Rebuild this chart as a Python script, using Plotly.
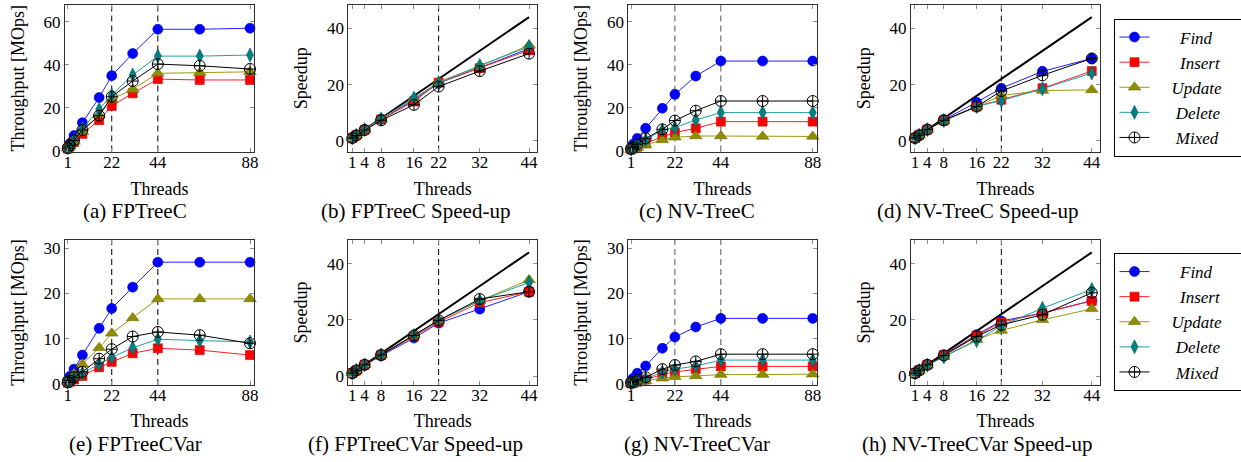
import plotly.graph_objects as go

# ---------------- data ----------------
threads = [1, 2, 4, 8, 16, 22, 32, 44, 64, 88]
speedup_threads = [1, 2, 4, 8, 16, 22, 32, 44]
ideal_x = [1, 44]
ideal_y = [1, 44]
tp_ticks = [1, 22, 44, 88]
sp_ticks = [1, 4, 8, 16, 22, 32, 44]
ops = ["Find", "Insert", "Update", "Delete", "Mixed"]

# (a) FPTreeC throughput [MOps]
fptreec_find = [1.6, 3.3, 7.0, 13.0, 24.7, 34.9, 45.2, 56.5, 56.5, 57.0]
fptreec_insert = [0.9, 2.0, 4.0, 7.8, 14.2, 20.8, 26.7, 33.3, 32.9, 32.9]
fptreec_update = [1.1, 2.2, 4.3, 8.8, 16.6, 23.9, 28.5, 36.0, 36.3, 36.7]
fptreec_delete = [1.2, 2.5, 5.0, 10.4, 19.2, 25.9, 35.2, 44.0, 44.0, 44.5]
fptreec_mixed = [1.2, 2.5, 4.8, 9.6, 16.3, 25.1, 32.4, 40.3, 39.5, 38.0]

# (b) FPTreeC speed-up
fptreec_sp_find = [1, 2.0, 4.0, 7.7, 14.5, 20.5, 26.0, 32.8]
fptreec_sp_insert = [1, 2.0, 3.9, 7.6, 14.0, 20.7, 25.8, 32.2]
fptreec_sp_update = [1, 2.0, 4.0, 7.8, 15.0, 21.0, 26.5, 34.0]
fptreec_sp_delete = [1, 2.0, 4.0, 7.8, 15.2, 20.5, 26.8, 33.5]
fptreec_sp_mixed = [1, 1.9, 3.8, 7.3, 12.8, 19.3, 24.8, 31.0]

# (c) NV-TreeC throughput [MOps]
nvtreec_find = [1.5, 3.0, 5.7, 10.4, 19.7, 26.2, 34.7, 41.7, 41.7, 41.7]
nvtreec_insert = [0.5, 1.0, 1.8, 3.4, 6.5, 8.4, 10.4, 13.5, 13.5, 13.5]
nvtreec_update = [0.4, 0.8, 1.5, 2.6, 5.0, 6.2, 6.8, 6.8, 6.6, 6.6]
nvtreec_delete = [0.7, 1.4, 2.7, 5.0, 9.6, 10.7, 14.3, 17.7, 17.7, 17.7]
nvtreec_mixed = [0.8, 1.5, 3.0, 5.7, 9.9, 14.0, 18.6, 23.1, 23.1, 23.1]

# (d) NV-TreeC speed-up
nvtreec_sp_find = [1, 2.0, 4.0, 7.5, 13.7, 18.7, 24.7, 29.3]
nvtreec_sp_insert = [1, 2.0, 4.0, 7.2, 12.2, 14.6, 18.7, 24.8]
nvtreec_sp_update = [1, 2.0, 4.0, 7.0, 12.2, 16.1, 17.9, 18.1]
nvtreec_sp_delete = [1, 2.0, 4.0, 7.2, 12.2, 14.3, 18.5, 24.1]
nvtreec_sp_mixed = [1, 2.0, 4.0, 7.3, 12.2, 17.7, 23.3, 29.3]

# (e) FPTreeCVar throughput [MOps]
fptreecvar_find = [0.9, 1.7, 3.3, 6.4, 12.3, 16.7, 21.4, 26.9, 26.9, 26.9]
fptreecvar_insert = [0.3, 0.5, 1.0, 1.8, 3.7, 4.9, 6.8, 7.9, 7.5, 6.4]
fptreecvar_update = [0.6, 1.2, 2.3, 4.4, 8.0, 11.2, 14.6, 18.8, 18.8, 18.8]
fptreecvar_delete = [0.4, 0.7, 1.3, 2.4, 4.4, 5.9, 8.0, 9.9, 9.6, 9.3]
fptreecvar_mixed = [0.4, 0.8, 1.5, 2.7, 5.6, 7.7, 10.5, 11.5, 10.8, 9.0]

# (f) FPTreeCVar speed-up
fptreecvar_sp_find = [1, 2.0, 3.9, 7.2, 13.5, 18.8, 23.8, 30.0]
fptreecvar_sp_insert = [1, 2.0, 4.0, 7.4, 14.1, 19.2, 26.1, 30.0]
fptreecvar_sp_update = [1, 2.0, 4.0, 7.6, 14.6, 19.8, 26.8, 34.2]
fptreecvar_sp_delete = [1, 2.0, 4.0, 7.5, 14.4, 19.8, 26.8, 33.3]
fptreecvar_sp_mixed = [1, 2.0, 4.0, 7.5, 14.4, 19.8, 27.4, 30.0]

# (g) NV-TreeCVar throughput [MOps]
nvtreecvar_find = [0.7, 1.3, 2.4, 4.0, 7.9, 10.4, 12.6, 14.5, 14.5, 14.5]
nvtreecvar_insert = [0.15, 0.3, 0.5, 1.0, 2.1, 2.7, 3.3, 3.9, 3.9, 3.9]
nvtreecvar_update = [0.1, 0.2, 0.4, 0.7, 1.3, 1.6, 1.8, 2.1, 2.1, 2.2]
nvtreecvar_delete = [0.2, 0.4, 0.7, 1.2, 2.6, 3.3, 4.0, 5.3, 5.3, 5.3]
nvtreecvar_mixed = [0.3, 0.5, 0.9, 1.5, 3.3, 4.2, 5.0, 6.6, 6.6, 6.6]

# (h) NV-TreeCVar speed-up
nvtreecvar_sp_find = [1, 2.0, 4.0, 7.5, 14.7, 19.6, 22.4, 26.8]
nvtreecvar_sp_insert = [1, 2.0, 4.0, 7.4, 14.4, 19.1, 22.4, 26.7]
nvtreecvar_sp_update = [1, 1.9, 3.8, 6.9, 12.9, 16.2, 20.0, 23.9]
nvtreecvar_sp_delete = [1, 1.9, 3.8, 6.8, 12.6, 17.9, 24.1, 30.8]
nvtreecvar_sp_mixed = [1, 2.0, 4.0, 7.3, 14.1, 18.2, 21.8, 29.6]

captions = ["(a) FPTreeC", "(b) FPTreeC Speed-up", "(c) NV-TreeC", "(d) NV-TreeC Speed-up",
            "(e) FPTreeCVar", "(f) FPTreeCVar Speed-up", "(g) NV-TreeCVar", "(h) NV-TreeCVar Speed-up"]

panels = [
    ("tp", [fptreec_find, fptreec_insert, fptreec_update, fptreec_delete, fptreec_mixed]),
    ("sp", [fptreec_sp_find, fptreec_sp_insert, fptreec_sp_update, fptreec_sp_delete, fptreec_sp_mixed]),
    ("tp", [nvtreec_find, nvtreec_insert, nvtreec_update, nvtreec_delete, nvtreec_mixed]),
    ("sp", [nvtreec_sp_find, nvtreec_sp_insert, nvtreec_sp_update, nvtreec_sp_delete, nvtreec_sp_mixed]),
    ("tp", [fptreecvar_find, fptreecvar_insert, fptreecvar_update, fptreecvar_delete, fptreecvar_mixed]),
    ("sp", [fptreecvar_sp_find, fptreecvar_sp_insert, fptreecvar_sp_update, fptreecvar_sp_delete, fptreecvar_sp_mixed]),
    ("tp", [nvtreecvar_find, nvtreecvar_insert, nvtreecvar_update, nvtreecvar_delete, nvtreecvar_mixed]),
    ("sp", [nvtreecvar_sp_find, nvtreecvar_sp_insert, nvtreecvar_sp_update, nvtreecvar_sp_delete, nvtreecvar_sp_mixed]),
]

# ---------------- styling ----------------
W, H = 1241, 462
FONT = "'Liberation Serif', 'Times New Roman', serif"
line_colors = ["#2020ff", "#ff2020", "#9c9a10", "#20a0a0", "#000000"]
mark_colors = ["#0000ff", "#ff0000", "#8f8c00", "#008080", "#000000"]
mark_edges = ["#0000c0", "#d00000", "#706e00", "#006060", "#000000"]
symbols = ["circle", "square", "triangle-up", "diamond-tall", "circle-cross-open"]
sizes = [10, 9, 11, 10, 11]
leg_pad_left = [6, 6, 4, 5, 5]
leg_pad_right = 7
nb = "\u00a0"

col_px = [(65, 254), (348.3, 537.3), (628.3, 816.7), (911, 1100)]
row_px = [(5, 151.5), (240, 385)]
cap_x = [135, 415, 697, 977]
cap_y = [211, 444]
x_title_standoff = [11, 9]

fig = go.Figure()
layout = dict(template="none", width=W, height=H, margin=dict(l=0, r=0, t=0, b=0, autoexpand=False),
              paper_bgcolor="white", plot_bgcolor="white",
              font=dict(family=FONT, color="black"),
              showlegend=True)
shapes = []
annotations = []

for i, (kind, series) in enumerate(panels):
    n = i + 1
    r, c = divmod(i, 4)
    xs = "x" if n == 1 else f"x{n}"
    ys = "y" if n == 1 else f"y{n}"
    xdom = [col_px[c][0] / W, col_px[c][1] / W]
    ydom = [1 - row_px[r][1] / H, 1 - row_px[r][0] / H]
    xvals = threads if kind == "tp" else speedup_threads
    leg = "legend" if r == 0 else "legend2"
    show_leg = (c == 3)
    if kind == "sp":
        fig.add_trace(go.Scatter(x=ideal_x, y=ideal_y, mode="lines", xaxis=xs, yaxis=ys,
                                 line=dict(color="black", width=2), showlegend=False, hoverinfo="skip"))
    for k in range(5):
        label = nb * leg_pad_left[k] + f"<i>{ops[k]}</i>" + nb * leg_pad_right
        fig.add_trace(go.Scatter(
            x=xvals, y=series[k], mode="lines+markers", xaxis=xs, yaxis=ys,
            name=label, legend=leg, showlegend=show_leg,
            line=dict(color=line_colors[k], width=1),
            marker=dict(symbol=symbols[k], size=sizes[k], color=mark_colors[k],
                        line=dict(color=mark_edges[k], width=1 if k == 4 else 0.6)),
            cliponaxis=False))

    if kind == "tp":
        xrange = [-0.3, 89.9]
        xt = tp_ticks
        if r == 0:
            yrange = [-0.4, 67.8]
            yt = [0, 20, 40, 60]
        else:
            yrange = [-0.2, 31.8]
            yt = [0, 10, 20, 30]
        ytitle = "Throughput [MOps]"
        vlines = [22, 44]
        dash_col = "#000000" if c == 0 else "#555555"
    else:
        xrange = [0.03, 46.0]
        xt = sp_ticks
        yrange = [-3.8, 48.3] if r == 0 else [-3.2, 48.4]
        yt = [0, 20, 40]
        ytitle = "Speedup"
        vlines = [22]
        dash_col = "#000000"

    axcommon = dict(showgrid=False, zeroline=False, showline=True, linecolor="#303030", linewidth=1,
                    mirror="ticks", ticks="inside", ticklen=4, tickcolor="#909090", tickwidth=1,
                    automargin=False,
                    tickfont=dict(family=FONT, size=17, color="black"))
    layout["xaxis" if n == 1 else f"xaxis{n}"] = dict(
        domain=xdom, anchor=ys, range=xrange, tickmode="array", tickvals=xt,
        ticktext=[str(v) for v in xt], ticklabelstandoff=-5,
        title=dict(text="Threads", font=dict(family=FONT, size=18), standoff=x_title_standoff[r]),
        **axcommon)
    layout["yaxis" if n == 1 else f"yaxis{n}"] = dict(
        domain=ydom, anchor=xs, range=yrange, tickmode="array", tickvals=yt,
        ticktext=[str(v) for v in yt],
        title=dict(text=ytitle, font=dict(family=FONT, size=18), standoff=14),
        **axcommon)
    for v in vlines:
        shapes.append(dict(type="line", xref=xs, yref=f"{ys} domain", x0=v, x1=v, y0=0, y1=1,
                           line=dict(color=dash_col, width=1, dash="6px,4px"), layer="below"))
    annotations.append(dict(text=captions[i], xref="paper", yref="paper",
                            x=cap_x[c] / W, y=1 - cap_y[r] / H, xanchor="center", yanchor="middle",
                            showarrow=False, font=dict(family=FONT, size=21, color="black")))

legend_style = dict(xanchor="left", yanchor="top", bgcolor="white", bordercolor="black", borderwidth=1,
                    font=dict(family=FONT, size=17, color="black"), itemclick=False,
                    tracegroupgap=0)
layout["legend"] = dict(x=1113.5 / W, y=1 - 18.5 / H, **legend_style)
layout["legend2"] = dict(x=1113.5 / W, y=1 - 253 / H, **legend_style)
layout["shapes"] = shapes
layout["annotations"] = annotations
fig.update_layout(**layout)

fig.write_html("out.html", config={"displayModeBar": False},
               post_script="document.body.style.margin='0';document.body.style.padding='0';")
